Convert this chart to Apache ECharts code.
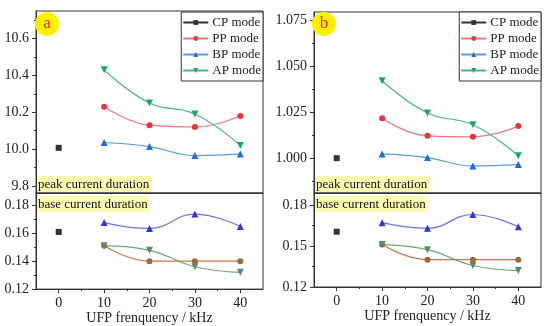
<!DOCTYPE html>
<html>
<head>
<meta charset="utf-8">
<script src="https://cdn.jsdelivr.net/npm/echarts@6/dist/echarts.min.js"></script>
<style>html,body{margin:0;padding:0;background:#fff;}#c{width:550px;height:326px;}</style>
</head>
<body>
<div id="c"></div>
<script>
// ---- data ----
const xVals = [10, 20, 30, 40];
const cpX = [0];
const xTicks = [0, 10, 20, 30, 40];
const xMinorTicks = [5, 15, 25, 35];
const seriesNames = ['CP mode', 'PP mode', 'BP mode', 'AP mode'];

// panel a: peak current duration
const aPeakCP = [10.007];
const aPeakPP = [10.23, 10.13, 10.12, 10.18];
const aPeakBP = [10.036, 10.014, 9.965, 9.974];
const aPeakAP = [10.43, 10.25, 10.19, 10.02];
// panel a: base current duration
const aBaseCP = [0.161];
const aBasePP = [0.151, 0.140, 0.140, 0.140];
const aBaseBP = [0.1677, 0.1635, 0.1738, 0.1649];
const aBaseAP = [0.151, 0.1478, 0.136, 0.132];
// panel b: peak current duration
const bPeakCP = [1.000];
const bPeakPP = [1.0217, 1.0121, 1.0116, 1.0174];
const bPeakBP = [1.0023, 1.0003, 0.9958, 0.9965];
const bPeakAP = [1.042, 1.0245, 1.0181, 1.0013];
// panel b: base current duration
const bBaseCP = [0.1604];
const bBasePP = [0.151, 0.140, 0.140, 0.140];
const bBaseBP = [0.167, 0.1629, 0.173, 0.164];
const bBaseAP = [0.151, 0.1473, 0.1357, 0.132];

// tick labels
const aPeakTicks = [9.8, 10.0, 10.2, 10.4, 10.6];
const aPeakMinor = [9.9, 10.1, 10.3, 10.5, 10.7];
const aBaseTicks = [0.12, 0.14, 0.16, 0.18];
const aBaseMinor = [0.13, 0.15, 0.17];
const bPeakTicks = [1.000, 1.025, 1.050, 1.075];
const bPeakMinor = [0.9875, 1.0125, 1.0375, 1.0625];
const bBaseTicks = [0.12, 0.15, 0.18];
const bBaseMinor = [0.135, 0.165];

// ---- styling ----
const FONT = "'Liberation Serif','Times New Roman',serif";
const AX = '#333';
const topColors = {
  CP: {m: '#333333', l: '#333333'},
  PP: {m: '#e8343c', l: '#f27878'},
  BP: {m: '#1e6cd4', l: '#5a9be6'},
  AP: {m: '#1fa36e', l: '#45b58e'}
};
const baseColors = {
  CP: {m: '#333333', l: '#333333'},
  PP: {m: '#9a6a3a', l: '#c8744e'},
  BP: {m: '#3535d0', l: '#6a78e0'},
  AP: {m: '#5a8a6a', l: '#6aa87a'}
};
const symbols = {CP: 'rect', PP: 'circle', BP: 'triangle', AP: 'triangle'};
const symSize = {CP: 6, PP: 6, BP: 7, AP: 7};
const symRot = {CP: 0, PP: 0, BP: 0, AP: 180};

const grids = [
  {left: 36, top: 11, width: 227, height: 182},
  {left: 36, top: 193, width: 227, height: 98},
  {left: 314, top: 12, width: 227, height: 181},
  {left: 314, top: 193, width: 227, height: 94}
].map(g => Object.assign({show: true, borderColor: AX, borderWidth: 1, backgroundColor: 'transparent'}, g));

function xAxisFor(gi, labels) {
  return {
    type: 'value', gridIndex: gi, min: -5, max: 45, position: 'bottom',
    splitLine: {show: false},
    axisLine: {show: true, onZero: false, lineStyle: {color: AX}},
    axisTick: {show: labels, customValues: xTicks, length: 4, lineStyle: {color: AX}},
    axisLabel: {show: labels, customValues: xTicks, margin: 7, color: '#222', fontFamily: FONT, fontSize: 14},
    name: labels ? 'UFP frenquency / kHz' : '',
    nameLocation: 'middle', nameGap: 19,
    nameTextStyle: {fontFamily: FONT, fontSize: 14, color: '#222'}
  };
}
function xMinorFor(gi) {
  return {
    type: 'value', gridIndex: gi, min: -5, max: 45, position: 'bottom',
    splitLine: {show: false}, axisLine: {show: false, onZero: false},
    axisTick: {show: true, customValues: xMinorTicks, length: 2, lineStyle: {color: AX}},
    axisLabel: {show: false}
  };
}
function yAxisFor(gi, min, max, ticks, dec) {
  return {
    type: 'value', gridIndex: gi, min: min, max: max, position: 'left',
    splitLine: {show: false},
    axisLine: {show: true, onZero: false, lineStyle: {color: AX}},
    axisTick: {show: true, customValues: ticks, length: 4, lineStyle: {color: AX}},
    axisLabel: {show: true, customValues: ticks, margin: 7, color: '#222', fontFamily: FONT, fontSize: 14,
      formatter: v => Number(v).toFixed(dec)}
  };
}
function yMinorFor(gi, min, max, ticks) {
  return {
    type: 'value', gridIndex: gi, min: min, max: max, position: 'left',
    splitLine: {show: false}, axisLine: {show: false, onZero: false},
    axisTick: {show: true, customValues: ticks, length: 2, lineStyle: {color: AX}},
    axisLabel: {show: false}
  };
}

const xAxis = [
  xAxisFor(0, false), xAxisFor(1, true), xAxisFor(2, false), xAxisFor(3, true),
  xMinorFor(1), xMinorFor(3)
];
const yAxis = [
  yAxisFor(0, 9.762, 10.749, aPeakTicks, 1),
  yAxisFor(1, 0.12, 0.1889, aBaseTicks, 2),
  yAxisFor(2, 0.9811, 1.0793, bPeakTicks, 3),
  yAxisFor(3, 0.12, 0.1887, bBaseTicks, 2),
  yMinorFor(0, 9.762, 10.749, aPeakMinor),
  yMinorFor(1, 0.12, 0.1889, aBaseMinor),
  yMinorFor(2, 0.9811, 1.0793, bPeakMinor),
  yMinorFor(3, 0.12, 0.1887, bBaseMinor)
];

function mk(key, xs, ys, axisIdx, colors, isCP) {
  const c = colors[key];
  return {
    name: key + ' mode', type: 'line',
    xAxisIndex: axisIdx, yAxisIndex: axisIdx,
    data: xs.map((x, i) => [x, ys[i]]),
    smooth: isCP ? false : 0.45,
    symbol: symbols[key], symbolSize: symSize[key], symbolRotate: symRot[key],
    showSymbol: true,
    itemStyle: {color: c.m},
    lineStyle: {color: c.l, width: 1.2},
    z: 3, silent: true, animation: false
  };
}

const series = [
  mk('CP', cpX, aPeakCP, 0, topColors, true),
  mk('PP', xVals, aPeakPP, 0, topColors),
  mk('BP', xVals, aPeakBP, 0, topColors),
  mk('AP', xVals, aPeakAP, 0, topColors),
  mk('CP', cpX, aBaseCP, 1, baseColors, true),
  mk('PP', xVals, aBasePP, 1, baseColors),
  mk('BP', xVals, aBaseBP, 1, baseColors),
  mk('AP', xVals, aBaseAP, 1, baseColors),
  mk('CP', cpX, bPeakCP, 2, topColors, true),
  mk('PP', xVals, bPeakPP, 2, topColors),
  mk('BP', xVals, bPeakBP, 2, topColors),
  mk('AP', xVals, bPeakAP, 2, topColors),
  mk('CP', cpX, bBaseCP, 3, baseColors, true),
  mk('PP', xVals, bBasePP, 3, baseColors),
  mk('BP', xVals, bBaseBP, 3, baseColors),
  mk('AP', xVals, bBaseAP, 3, baseColors)
];

function legendAt(right) {
  return {
    show: true, orient: 'vertical', right: right, top: 12,
    data: seriesNames, selectedMode: false,
    backgroundColor: '#fff', borderColor: AX, borderWidth: 1,
    padding: [4, 2, 4, 1], itemWidth: 25, itemHeight: 6, itemGap: 3,
    textStyle: {fontFamily: FONT, fontSize: 13, color: '#222', padding: [0, 0, 0, -1]}
  };
}

function tag(letter, cx) {
  return [
    {type: 'circle', shape: {cx: cx, cy: 24, r: 12}, style: {fill: '#fff000'}, z: 10},
    {type: 'text', x: cx, y: 24, style: {text: letter, fill: '#e0300a', font: "17px " + FONT, align: 'center', verticalAlign: 'middle'}, z: 11}
  ];
}
function hl(text, x, y) {
  return {type: 'text', x: x, y: y, z: 10,
    style: {text: text, fill: '#111', font: "13px " + FONT, backgroundColor: '#fdfab4', padding: [2, 2, 1, 1], verticalAlign: 'top'}};
}

const option = {
  animation: false,
  backgroundColor: '#fff',
  grid: grids,
  xAxis: xAxis,
  yAxis: yAxis,
  legend: [legendAt(287), legendAt(9)],
  series: series,
  graphic: [].concat(
    tag('a', 47, 24), tag('b', 324, 24),
    [hl('peak current duration', 37, 176), hl('base current duration', 37, 196),
     hl('peak current duration', 315, 176), hl('base current duration', 315, 196)]
  )
};

const chart = echarts.init(document.getElementById('c'), null, {renderer: 'canvas'});
chart.setOption(option);
</script>
</body>
</html>
